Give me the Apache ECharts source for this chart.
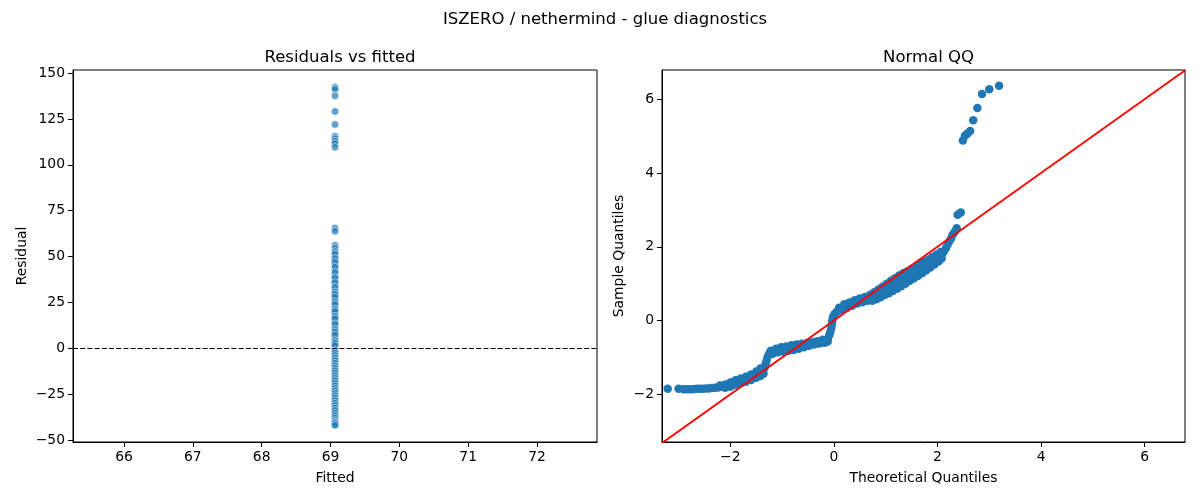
<!DOCTYPE html>
<html><head><meta charset="utf-8">
<script src="https://cdn.jsdelivr.net/npm/echarts@6/dist/echarts.min.js"></script>
<style>html,body{margin:0;padding:0;background:#fff}#c{width:1200px;height:500px}</style>
</head><body><div id="c"></div>
<script>
// ---- data ----
const suptitle = 'ISZERO / nethermind - glue diagnostics';
const fittedValue = 69.066;
const residuals = [142.3, 141.2, 137.6, 129.1, 122.0, 115.6, 114.3, 112.9, 111.6, 109.6,
  65.5, 63.8, 56.2, 54.6, 52.8, 50.9, 49.6, 48.1, 47.8, 46.4, 45.0, 43.6, 42.2, 40.5, 39.3,
  37.9, 36.9, 36.9, 35.4, 34.0, 32.6, 31.4, 31.4, 30.1, 28.8, 27.4, 26.0, 26.0, 24.6, 23.3,
  22.0, 20.7, 19.5, 19.5, 18.1, 16.8, 15.4, 14.0, 12.3, 12.3, 11.0, 9.6, 8.2, 6.5, 5.0, 5.0,
  3.6, 2.2, 0.8, -0.6, -1.8, -3.2, -3.2, -4.6, -6.0, -7.4, -8.8, -10.2, -11.4, -11.4, -12.9,
  -14.3, -15.6, -16.9, -16.9, -18.3, -19.7, -21.1, -22.5, -23.8, -25.1, -25.1, -26.4, -27.8,
  -29.2, -30.5, -30.5, -31.9, -33.2, -34.6, -36.0, -36.0, -37.3, -38.6, -39.9, -40.8, -41.5, -41.5,
  51.5, 49.0, 46.9, 44.3, 41.5, 38.6, 35.9, 33.3, 30.7, 29.5, 27.9, 25.3, 23.9, 21.4, 20.1, 17.5,
  16.1, 13.3, 10.3, 8.9, 7.3, 4.3, 2.9, 1.5, -1.2, -2.5, -3.9, -5.3, -6.7, -8.1, -9.5, -10.8,
  -12.2, -13.6, -15.0, -16.3, -17.6, -19.0, -20.4, -21.8, -23.1, -24.5, -25.8, -27.1, -28.5,
  -29.9, -31.2, -32.6, -33.9, -35.3, -36.7, -38.0, -39.3, -40.2, -41.0, -42.0];
const fittedTicks = [66, 67, 68, 69, 70, 71, 72];
const residualTicks = [-50, -25, 0, 25, 50, 75, 100, 125, 150];
const fittedRange = [65.259, 72.872];
const residualRange = [-51.1, 151.7];

// centre of the QQ point band
const qqCenterX = [
  -3.21, -3.00, -2.90, -2.84, -2.78, -2.72, -2.66, -2.60, -2.54, -2.48, -2.42, -2.36, -2.30, -2.24,
  -2.18, -2.12, -2.06, -2.00, -1.94, -1.88, -1.82, -1.76, -1.70, -1.64, -1.58, -1.52, -1.46, -1.41,
  -1.37, -1.34, -1.32, -1.30, -1.28, -1.25, -1.20, -1.14, -1.08, -1.01, -0.94, -0.87, -0.80, -0.73,
  -0.66, -0.59, -0.52, -0.45, -0.38, -0.31, -0.24, -0.17, -0.12, -0.09, -0.07, -0.05, -0.04, -0.03,
  -0.02, 0.01, 0.05, 0.10, 0.16, 0.22, 0.29, 0.36, 0.43, 0.50, 0.57, 0.64, 0.71, 0.78, 0.85, 0.92,
  0.99, 1.06, 1.13, 1.20, 1.27, 1.34, 1.41, 1.48, 1.55, 1.62, 1.69, 1.76, 1.83, 1.90, 1.97, 2.03,
  2.08, 2.12, 2.16, 2.19, 2.22, 2.26, 2.29, 2.33, 2.37, 2.39, 2.45,
  2.49, 2.53, 2.58, 2.63, 2.69, 2.77, 2.86, 3.00, 3.19];
const qqCenterY = [
  -1.85, -1.85, -1.86, -1.86, -1.86, -1.86, -1.85, -1.85, -1.85, -1.84, -1.84, -1.83, -1.82, -1.81,
  -1.79, -1.78, -1.76, -1.73, -1.68, -1.65, -1.62, -1.60, -1.57, -1.54, -1.50, -1.47, -1.44, -1.41,
  -1.36, -1.28, -1.18, -1.08, -0.98, -0.90, -0.85, -0.82, -0.80, -0.78, -0.77, -0.75, -0.74, -0.72,
  -0.69, -0.67, -0.65, -0.63, -0.61, -0.59, -0.57, -0.55, -0.50, -0.40, -0.30, -0.20, -0.10, 0.00,
  0.10, 0.17, 0.23, 0.28, 0.34, 0.40, 0.43, 0.46, 0.50, 0.54, 0.56, 0.58, 0.61, 0.65, 0.69, 0.75,
  0.81, 0.88, 0.94, 1.00, 1.06, 1.12, 1.18, 1.23, 1.29, 1.35, 1.41, 1.47, 1.53, 1.60, 1.66, 1.71,
  1.78, 1.86, 1.95, 2.04, 2.13, 2.22, 2.32, 2.40, 2.50, 2.87, 2.93,
  4.88, 5.01, 5.07, 5.14, 5.43, 5.76, 6.14, 6.27, 6.36];
// upper (left) edge of the band
const qqUpperX = [-2.20, -2.10, -2.00, -1.90, -1.80, -1.70, -1.60, -1.50, -1.42,
  -1.22, -1.12, -1.02, -0.92, -0.82, -0.72, -0.62, -0.52, -0.42, -0.32, -0.22,
  0.10, 0.20, 0.30, 0.40, 0.50, 0.60,
  0.70, 0.78, 0.86, 0.94, 1.02, 1.10, 1.18, 1.26, 1.34, 1.42, 1.50, 1.58, 1.66, 1.74, 1.82, 1.90, 1.98, 2.06];
const qqUpperY = [-1.76, -1.73, -1.68, -1.62, -1.57, -1.52, -1.46, -1.38, -1.30,
  -0.82, -0.76, -0.72, -0.70, -0.67, -0.65, -0.63, -0.61, -0.59, -0.56, -0.52,
  0.35, 0.44, 0.49, 0.55, 0.60, 0.64,
  0.70, 0.77, 0.84, 0.92, 1.00, 1.08, 1.15, 1.22, 1.28, 1.34, 1.40, 1.46, 1.53, 1.59, 1.65, 1.72, 1.79, 1.86];
// lower (right) edge of the band
const qqLowerX = [-2.10, -2.00, -1.90, -1.80, -1.70, -1.60, -1.50, -1.42, -1.36,
  -1.18, -1.08, -0.98, -0.88, -0.78, -0.68, -0.58, -0.48, -0.38, -0.28, -0.18, -0.12,
  0.15, 0.25, 0.35, 0.45, 0.55, 0.65,
  0.74, 0.82, 0.90, 0.98, 1.06, 1.14, 1.22, 1.30, 1.38, 1.46, 1.54, 1.62, 1.70, 1.78, 1.86, 1.94, 2.02, 2.08];
const qqLowerY = [-1.82, -1.79, -1.74, -1.70, -1.66, -1.61, -1.55, -1.50, -1.44,
  -0.90, -0.86, -0.84, -0.82, -0.80, -0.76, -0.72, -0.68, -0.65, -0.62, -0.60, -0.57,
  0.28, 0.34, 0.40, 0.46, 0.50, 0.54,
  0.54, 0.58, 0.63, 0.69, 0.74, 0.80, 0.86, 0.93, 1.00, 1.07, 1.14, 1.21, 1.28, 1.36, 1.44, 1.52, 1.60, 1.68];
const qqTicks = [-2, 0, 2, 4, 6];
const qqRangeX = [-3.32, 6.78];
const qqRangeY = [-3.29, 6.79];

// ---- chart ----
const FONT = 'DejaVu Sans';
const minus = v => String(v).replace('-', '\u2212');
function axis(range, ticks, name, gap, extra) {
  return Object.assign({
    type: 'value', min: range[0], max: range[1],
    name: name, nameLocation: 'middle', nameGap: gap,
    nameTextStyle: { fontFamily: FONT, fontSize: 13.9, color: '#000' },
    axisLine: { show: true, onZero: false, lineStyle: { color: '#000', width: 1 } },
    axisTick: { show: true, customValues: ticks, length: 5, lineStyle: { color: '#000', width: 1 } },
    axisLabel: { customValues: ticks, formatter: minus, margin: 8, fontFamily: FONT, fontSize: 13.9, color: '#000' },
    splitLine: { show: false }
  }, extra || {});
}
const pairs = (xs, ys) => xs.map((x, i) => [x, ys[i]]);
const qqPoints = pairs(qqUpperX, qqUpperY)
  .concat(pairs(qqLowerX, qqLowerY))
  .concat(pairs(qqCenterX, qqCenterY));
// 45-degree reference line across the panel
const refLine = [qqRangeX[0], qqRangeY[1]];

const chart = echarts.init(document.getElementById('c'), null, { renderer: 'canvas' });
chart.setOption({
  animation: false,
  backgroundColor: '#fff',
  title: [
    { text: suptitle, left: 600, top: 6, textAlign: 'center', textStyle: { fontFamily: FONT, fontSize: 16.5, fontWeight: 'normal', color: '#000' } },
    { text: 'Residuals vs fitted', left: 335, top: 44, textAlign: 'center', textStyle: { fontFamily: FONT, fontSize: 16.5, fontWeight: 'normal', color: '#000' } },
    { text: 'Normal QQ', left: 923.5, top: 44, textAlign: 'center', textStyle: { fontFamily: FONT, fontSize: 16.5, fontWeight: 'normal', color: '#000' } }
  ],
  grid: [
    { left: 73, right: 603, top: 70, bottom: 58, show: true, borderColor: '#000', borderWidth: 1, backgroundColor: 'transparent' },
    { left: 662, right: 15, top: 70, bottom: 58, show: true, borderColor: '#000', borderWidth: 1, backgroundColor: 'transparent' }
  ],
  xAxis: [
    axis(fittedRange, fittedTicks, 'Fitted', 29, { gridIndex: 0 }),
    axis(qqRangeX, qqTicks, 'Theoretical Quantiles', 29, { gridIndex: 1 })
  ],
  yAxis: [
    axis(residualRange, residualTicks, 'Residual', 44, { gridIndex: 0 }),
    axis(qqRangeY, qqTicks, 'Sample Quantiles', 36, { gridIndex: 1 })
  ],
  series: [
    {
      type: 'scatter', xAxisIndex: 0, yAxisIndex: 0,
      data: residuals.map(r => [fittedValue, r]),
      symbolSize: 7.5,
      itemStyle: { color: '#1f77b4', opacity: 0.7, borderColor: '#ffffff', borderWidth: 0.8 },
      markLine: {
        silent: true, symbol: 'none', label: { show: false },
        lineStyle: { color: '#000', width: 1, type: [5, 2.2] },
        data: [{ yAxis: 0 }]
      },
      z: 2
    },
    {
      type: 'scatter', xAxisIndex: 1, yAxisIndex: 1,
      data: qqPoints,
      symbolSize: 8.5,
      itemStyle: { color: '#1f77b4', opacity: 1 },
      z: 2
    },
    {
      type: 'line', xAxisIndex: 1, yAxisIndex: 1,
      data: refLine.map(v => [v, v]),
      symbol: 'none', clip: true,
      lineStyle: { color: '#ff0000', width: 1.8 },
      z: 3
    }
  ]
});
</script>
</body></html>
